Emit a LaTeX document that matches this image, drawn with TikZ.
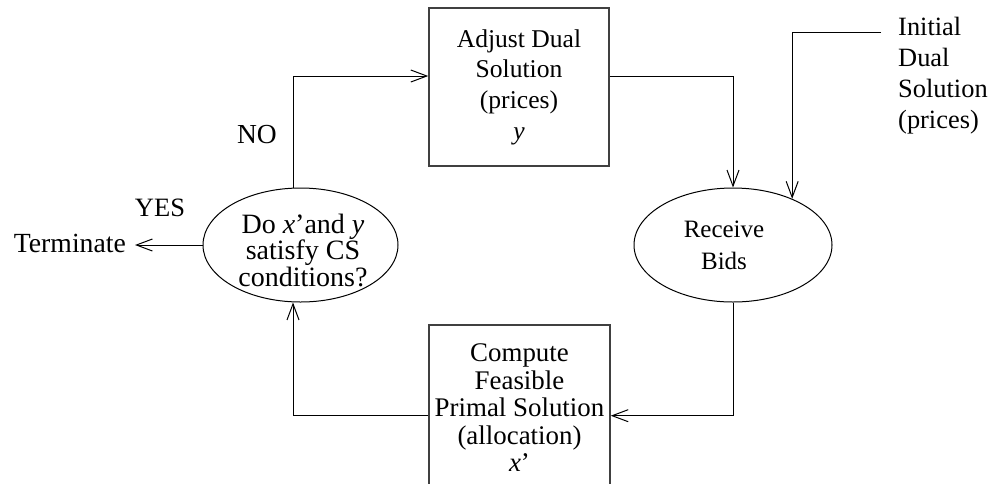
\documentclass[tikz,border=0pt]{standalone}
\usepackage{fontspec}
\setmainfont{Liberation Serif}
\usetikzlibrary{arrows.meta,shapes.geometric,calc}
\tikzset{
  arr/.style={line width=1pt,-{Straight Barb[length=16pt,width=12pt,line width=1pt]}},
  procbox/.style={draw=black!75,line width=1.5pt,rectangle,inner sep=0pt},
  decell/.style={draw=black,line width=1pt,ellipse,inner sep=0pt},
  txt/.style={inner sep=0pt,font=\fontsize{26}{31}\selectfont},
}
\begin{document}
\begin{tikzpicture}[x=1pt,y=-1pt]
\useasboundingbox (0,0) rectangle (993,483);
\clip (0,0) rectangle (993,483);
% boxes
\node[procbox,minimum width=180,minimum height=158,align=center,font=\fontsize{25.6}{30.7}\selectfont] (adjust) at (519,87)
  {Adjust Dual\\Solution\\(prices)\\\textit{y}};
\node[procbox,minimum width=181,minimum height=166,align=center,font=\fontsize{26.9}{27.5}\selectfont] (compute) at (519.5,408)
  {Compute\\Feasible\\Primal Solution\\(allocation)\\\textit{x}’};
% ellipses
\node[decell,minimum width=195,minimum height=114] (cs) at (300.5,245) {};
\node[txt,align=center,font=\fontsize{28}{26.5}\selectfont] (cslbl) at (303,250) {Do \textit{x}’and \textit{y}\\satisfy CS\\conditions?};
\node[decell,minimum width=198,minimum height=114] (rb) at (733,245) {};
\node[txt,align=center,font=\fontsize{25}{32}\selectfont] (rblbl) at (724,245) {Receive\\Bids};
% free labels
\node[txt,anchor=base east,inner xsep=9pt,font=\fontsize{27.7}{31}\selectfont] (term) at (135,252) {Terminate};
\node[txt,anchor=base,font=\fontsize{26.5}{31}\selectfont] (yes) at (160,216) {YES};
\node[txt,anchor=base,font=\fontsize{27.5}{31}\selectfont] (no) at (257,143) {NO};
\node[txt,anchor=base west,align=left,font=\fontsize{26.4}{30.7}\selectfont] (initlbl) at (898,128) {Initial\\Dual\\Solution\\(prices)};
\coordinate (init) at (881,32);
% connectors
\draw[arr] ([xshift=-7.5pt]cs.north) |- ([yshift=11pt]adjust.west);
\draw[arr] ([yshift=11pt]adjust.east) -| (rb.north);
\draw[arr] (init) -| (rb.38);
\draw[arr] (rb.south) |- ([yshift=-7.7pt]compute.east);
\draw[arr] ([yshift=-7.7pt]compute.west) -| ([xshift=-7.5pt]cs.south);
\draw[arr] (cs.west) -- (cs.west -| term.east);
\end{tikzpicture}
\end{document}
